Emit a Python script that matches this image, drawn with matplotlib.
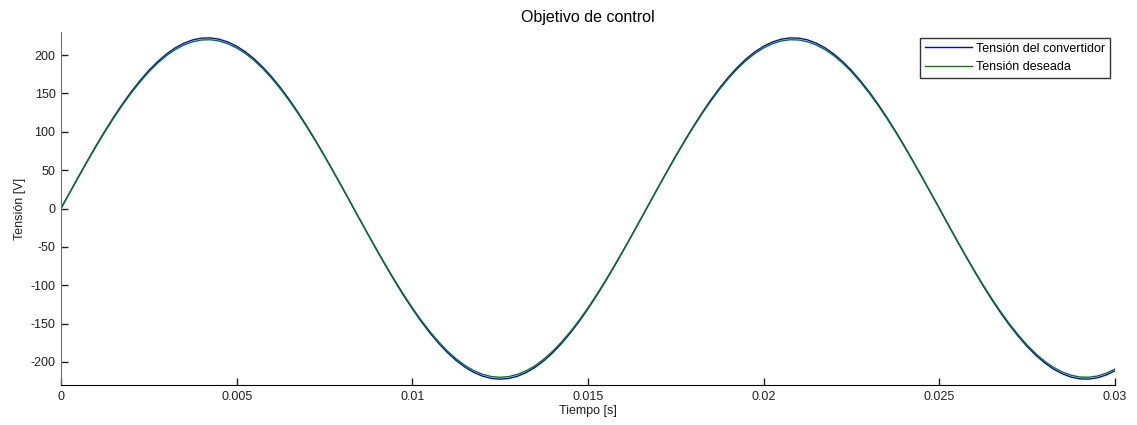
import matplotlib
matplotlib.use("Agg")
import matplotlib.pyplot as plt

plt.rcParams['font.family'] = ['Liberation Sans', 'DejaVu Sans']
plt.rcParams['axes.unicode_minus'] = False

# time samples [s]
tiempo = [i * 0.00025 for i in range(121)]

tension_deseada = [
    0.0,
    20.7, 41.2, 61.4, 81.0, 99.9, 117.9, 134.8, 150.6, 164.9, 178.0,
    189.4, 199.1, 207.0, 213.1, 217.3, 219.6, 219.9, 218.3, 214.7, 209.2,
    201.9, 192.8, 182.0, 169.5, 155.6, 140.2, 123.7, 106.0, 87.4, 68.0,
    48.0, 27.6, 6.9,
    -13.8, -34.4, -54.7, -74.5, -93.7, -112.0, -129.3,
    -145.5, -160.4, -173.8, -185.8, -196.0, -204.6, -211.3, -216.1, -219.0, -220.0,
    -219.0, -216.1, -211.3, -204.6, -196.0, -185.8, -173.8, -160.4, -145.5, -129.3,
    -112.0, -93.7, -74.5, -54.7, -34.4, -13.8,
    6.9, 27.6, 48.0, 68.0,
    87.4, 106.0, 123.7, 140.2, 155.6, 169.5, 182.0, 192.8, 201.9, 209.2,
    214.7, 218.3, 219.9, 219.6, 217.3, 213.1, 207.0, 199.1, 189.4, 178.0,
    164.9, 150.6, 134.8, 117.9, 99.9, 81.0, 61.4, 41.2, 20.7, 0.0,
    -20.7, -41.2, -61.4, -81.0, -99.9, -117.9, -134.8, -150.6, -164.9, -178.0,
    -189.4, -199.1, -207.0, -213.1, -217.3, -219.6, -219.9, -218.3, -214.7, -209.2,
]

tension_convertidor = [
    0.4,
    20.9, 41.7, 62.0, 81.9, 101.0, 119.2, 136.3, 152.2, 166.7, 179.9,
    191.4, 201.2, 209.3, 215.4, 219.7, 222.0, 222.3, 220.6, 217.0, 211.5,
    204.1, 194.9, 183.9, 171.4, 157.3, 141.8, 125.0, 107.1, 88.3, 68.7,
    48.5, 27.9, 7.0,
    -14.0, -34.8, -55.3, -75.3, -94.7, -113.2, -130.7,
    -147.1, -162.1, -175.7, -187.8, -198.2, -206.8, -213.6, -218.5, -221.4, -222.4,
    -221.4, -218.5, -213.6, -206.8, -198.2, -187.8, -175.7, -162.1, -147.1, -130.7,
    -113.2, -94.7, -75.3, -55.3, -34.8, -14.0,
    7.0, 27.9, 48.5, 68.7,
    88.3, 107.1, 125.0, 141.8, 157.3, 171.4, 183.9, 194.9, 204.1, 211.5,
    217.0, 220.6, 222.3, 222.0, 219.7, 215.4, 209.3, 201.2, 191.4, 179.9,
    166.7, 152.2, 136.3, 119.2, 101.0, 81.9, 62.0, 41.7, 20.9, 0.3,
    -20.9, -41.7, -62.0, -81.9, -101.0, -119.2, -136.3, -152.2, -166.7, -179.9,
    -191.4, -201.2, -209.3, -215.4, -219.7, -222.0, -222.3, -220.6, -217.0, -211.5,
]

xticks = [0, 0.005, 0.01, 0.015, 0.02, 0.025, 0.03]
xticklabels = ['0', '0.005', '0.01', '0.015', '0.02', '0.025', '0.03']
yticks = [-200, -150, -100, -50, 0, 50, 100, 150, 200]

fig = plt.figure(figsize=(11.37, 4.25), dpi=100)
ax = fig.add_axes([61/1137, 40/425, (1115-61)/1137, (385-32)/425])

ax.plot(tiempo, tension_convertidor, color='#0000ff', lw=1.0, label='Tensión del convertidor')
ax.plot(tiempo, tension_deseada, color='#008000', lw=1.0, label='Tensión deseada')

ax.set_xlim(0, 0.03)
ax.set_ylim(-230, 230)
ax.set_xticks(xticks)
ax.set_xticklabels(xticklabels)
ax.set_yticks(yticks)
ax.tick_params(direction='in', length=5, width=1, colors='#222222', labelsize=9, pad=4)

ax.spines['top'].set_visible(False)
ax.spines['right'].set_visible(False)
ax.spines['left'].set_color('#707070')
ax.spines['bottom'].set_color('#000000')

ax.set_title('Objetivo de control', fontsize=11.5, pad=7)
ax.set_xlabel('Tiempo [s]', fontsize=9, labelpad=2, color='#222222')
ax.set_ylabel('Tensión [V]', fontsize=9, labelpad=3, color='#222222')

leg = ax.legend(loc='upper right', fontsize=9, frameon=True, fancybox=False,
                edgecolor='black', handlelength=3.8, borderpad=0.38,
                labelspacing=0.5, handletextpad=0.3, borderaxespad=0,
                bbox_to_anchor=(0.9953, 0.983))
leg.get_frame().set_linewidth(1.0)

fig.savefig('out.png', dpi=100)
